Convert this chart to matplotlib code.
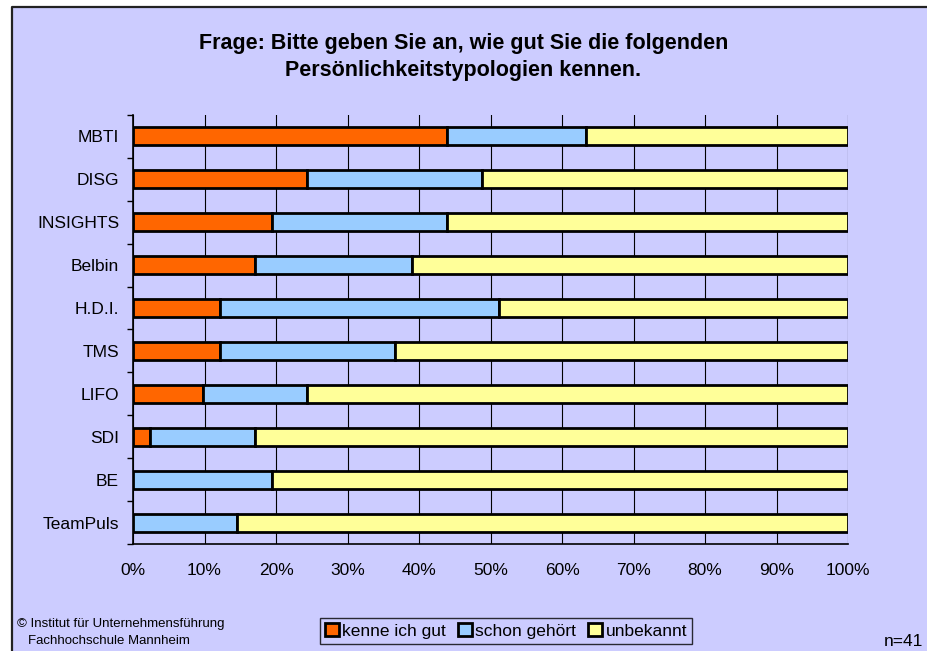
import matplotlib.pyplot as plt
import numpy as np
from matplotlib.lines import Line2D

plt.rcParams['font.family'] = ['Liberation Sans', 'DejaVu Sans']

# Anteile in %, n=41
labels = ["MBTI", "DISG", "INSIGHTS", "Belbin", "H.D.I.", "TMS", "LIFO", "SDI", "BE", "TeamPuls"]
gut = [43.9, 24.4, 19.5, 17.1, 12.2, 12.2, 9.8, 2.4, 0.0, 0.0]
gehoert = [19.5, 24.4, 24.4, 21.9, 39.0, 24.4, 14.6, 14.6, 19.5, 14.6]
unbekannt = [100 - a - b for a, b in zip(gut, gehoert)]

bg = '#CCCCFF'
colors = ['#FF6600', '#99CCFF', '#FFFF99']

fig = plt.figure(figsize=(9.27, 6.51), dpi=100)
fig.patch.set_facecolor('white')
# Hintergrund mit Rahmen nur oben und links
x0, y1 = 12 / 927, 1 - 7 / 651
fig.patches.append(plt.Rectangle((x0, 0), 1 - x0, y1, transform=fig.transFigure,
                                 facecolor=bg, edgecolor='none', zorder=-2))
fig.lines.append(Line2D([x0, x0, 1], [0, y1, y1], transform=fig.transFigure,
                        color='#222222', linewidth=1.6))

ax = fig.add_axes([133 / 927, 1 - 544 / 651, (848 - 133) / 927, (544 - 115) / 651])
ax.set_facecolor(bg)

y = np.arange(len(labels))[::-1]
h = 0.42
left = np.zeros(len(labels))
names = ["kenne ich gut", "schon gehört", "unbekannt"]
for vals, c, n in zip([gut, gehoert, unbekannt], colors, names):
    vals = np.array(vals)
    ax.barh(y, vals, left=left, height=h, color=c, edgecolor='black', linewidth=2, label=n, zorder=3)
    left += vals

ax.set_xlim(0, 100)
ax.set_ylim(-0.5, len(labels) - 0.5)
ax.set_xticks(np.arange(0, 101, 10))
ax.set_xticklabels([f"{v}%" for v in range(0, 101, 10)], fontsize=12.5)
ax.set_yticks(y)
ax.set_yticklabels(labels, fontsize=12.5)
ax.set_yticks(np.arange(-0.5, len(labels), 1), minor=True)
ax.tick_params(axis='y', which='major', length=0, pad=10)
ax.tick_params(axis='y', which='minor', length=4, width=1)
ax.tick_params(axis='x', length=0, pad=14)
ax.grid(axis='x', color='black', linewidth=0.8, zorder=0)
for s in ax.spines.values():
    s.set_visible(False)
ax.spines['left'].set_visible(True)
ax.spines['bottom'].set_visible(True)
ax.spines['left'].set_linewidth(1.2)
ax.spines['bottom'].set_linewidth(1.2)

fig.text(0.5, 1 - 57 / 651, "Frage: Bitte geben Sie an, wie gut Sie die folgenden\nPersönlichkeitstypologien kennen.",
         ha='center', va='center', fontsize=15.5, fontweight='bold', linespacing=1.4)

leg = ax.legend(loc='center', ncol=3, fontsize=12.5, frameon=True, fancybox=False, edgecolor='black',
                handlelength=0.8, handleheight=0.8, handletextpad=0.2, columnspacing=0.7,
                borderpad=0.3)
leg.set_bbox_to_anchor((506 / 927, 1 - 631 / 651), transform=fig.transFigure)
leg.get_frame().set_facecolor(bg)
leg.get_frame().set_linewidth(1)

fig.text(17 / 927, 1 - 624 / 651, "© Institut für Unternehmensführung", fontsize=9.5, va='center')
fig.text(28 / 927, 1 - 641 / 651, "Fachhochschule Mannheim", fontsize=9.5, va='center')
fig.text(923 / 927, 1 - 641 / 651, "n=41", fontsize=12.5, ha='right', va='center')

fig.savefig('out.png', dpi=100, facecolor=fig.get_facecolor())
